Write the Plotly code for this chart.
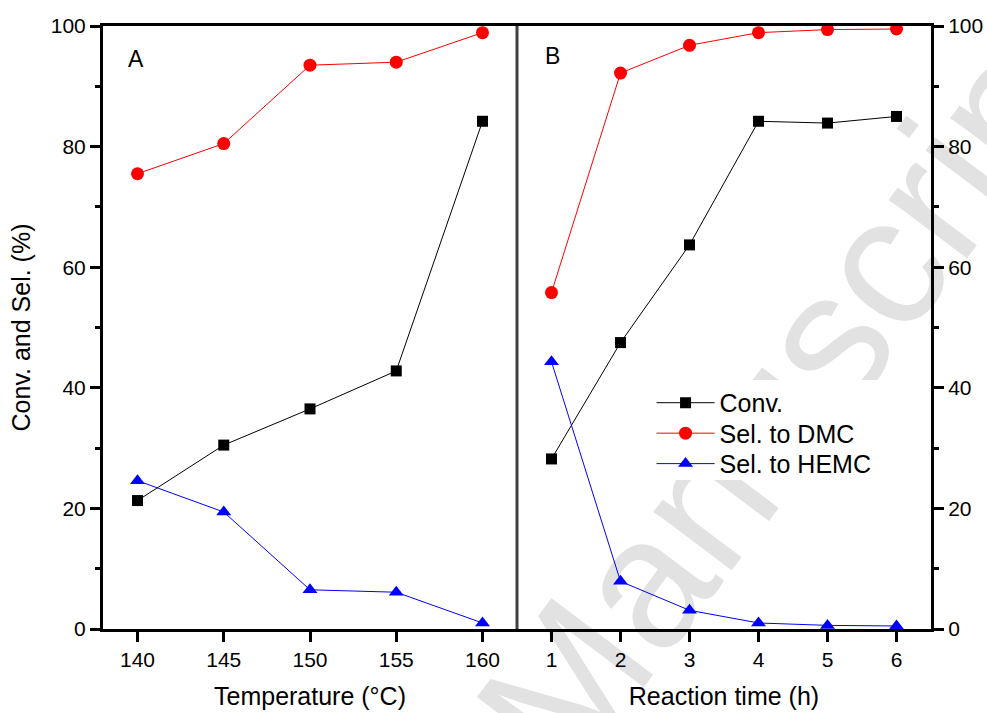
import plotly.graph_objects as go

# ---- data ----
temps = [140, 145, 150, 155, 160]
conv_temp = [21.3, 30.5, 36.5, 42.8, 84.2]
dmc_temp = [75.5, 80.5, 93.5, 94.0, 98.9]
hemc_temp = [24.6, 19.4, 6.5, 6.1, 1.0]

times = [1, 2, 3, 4, 5, 6]
conv_time = [28.2, 47.5, 63.7, 84.2, 83.9, 85.0]
dmc_time = [55.8, 92.2, 96.8, 98.9, 99.4, 99.5]
hemc_time = [44.3, 7.9, 3.1, 1.0, 0.6, 0.5]

series_names = ["Conv.", "Sel. to DMC", "Sel. to HEMC"]
colors = ["#000000", "#ff0000", "#0000ff"]
symbols = ["square", "circle", "triangle-up"]
sizes = [11, 13, 13]
legend_ids = ["legend", "legend2", "legend3"]
legend_tops = [0.413, 0.3625, 0.312]

FONT = "Liberation Sans, Arial, Helvetica, sans-serif"

fig = go.Figure()

for name, ys, c, s, sz in zip(series_names, [conv_temp, dmc_temp, hemc_temp], colors, symbols, sizes):
    fig.add_trace(go.Scatter(x=temps, y=ys, mode="lines+markers", name=name,
                             line=dict(color=c, width=1), marker=dict(symbol=s, size=sz, color=c),
                             xaxis="x", yaxis="y", showlegend=False))
for name, ys, c, s, sz, lg in zip(series_names, [conv_time, dmc_time, hemc_time], colors, symbols, sizes, legend_ids):
    fig.add_trace(go.Scatter(x=times, y=ys, mode="lines+markers", name=name,
                             line=dict(color=c, width=1), marker=dict(symbol=s, size=sz, color=c),
                             xaxis="x2", yaxis="y2", showlegend=True, legend=lg))

axis_common = dict(showline=True, linecolor="black", linewidth=3, ticks="outside",
                   ticklen=10, tickwidth=2.5, tickcolor="black", showgrid=False, zeroline=False,
                   automargin=False,
                   tickfont=dict(family=FONT, size=21, color="black"))

legend_common = dict(xanchor="left", yanchor="top", bgcolor="rgba(0,0,0,0)",
                     font=dict(family=FONT, size=25, color="black"), itemwidth=58)

fig.update_layout(
    template="none",
    width=987, height=713,
    margin=dict(l=103, r=56, t=26, b=84),
    paper_bgcolor="white", plot_bgcolor="rgba(0,0,0,0)",
    font=dict(family=FONT, color="black"),
    xaxis=dict(domain=[0, 0.5], range=[138, 162], dtick=5, tick0=140, anchor="y", mirror=True,
               title=dict(text="Temperature (°C)", font=dict(size=25), standoff=18), **axis_common),
    xaxis2=dict(domain=[0.5, 1], range=[0.5, 6.5], dtick=1, tick0=1, anchor="y2", mirror=True,
                title=dict(text="Reaction time (h)", font=dict(size=25), standoff=18), **axis_common),
    yaxis=dict(domain=[0, 1], range=[0, 100], dtick=20, tick0=0, anchor="x", side="left",
               minor=dict(dtick=10, ticks="outside", ticklen=5, tickwidth=2.5, tickcolor="black"),
               title=dict(text="Conv. and Sel. (%)", font=dict(size=25), standoff=14), **axis_common),
    yaxis2=dict(domain=[0, 1], range=[0, 100], dtick=20, tick0=0, anchor="x2", side="right",
                minor=dict(dtick=10, ticks="outside", ticklen=5, tickwidth=2.5, tickcolor="black"),
                **axis_common),
    legend=dict(x=0.6625, y=legend_tops[0], **legend_common),
    legend2=dict(x=0.6625, y=legend_tops[1], **legend_common),
    legend3=dict(x=0.6625, y=legend_tops[2], **legend_common),
    showlegend=True,
)

# divider between panels
fig.add_shape(type="line", xref="paper", yref="paper", x0=0.5, x1=0.5, y0=0, y1=1,
              line=dict(color="#404040", width=3), layer="above")

# watermark (drawn beneath traces)
fig.add_shape(type="rect", xref="paper", yref="paper", x0=0.80, x1=0.826, y0=0.41, y1=0.432,
              line=dict(width=0), fillcolor="rgba(0,0,0,0)", layer="below",
              label=dict(text="Manuscript", textangle=-53, textposition="middle center",
                         font=dict(family=FONT, size=185, color="#e2e2e2")))

# white legend box background (covers watermark)
fig.add_shape(type="rect", xref="paper", yref="paper", x0=0.6606, x1=0.938, y0=0.247, y1=0.413,
              line=dict(width=0), fillcolor="white", layer="below")

# panel labels
fig.add_annotation(x=139.9, y=94.5, xref="x", yref="y", text="A", showarrow=False,
                   font=dict(family=FONT, size=23, color="black"))
fig.add_annotation(x=1.01, y=95, xref="x2", yref="y2", text="B", showarrow=False,
                   font=dict(family=FONT, size=23, color="black"))

fig.write_html("out.html")
